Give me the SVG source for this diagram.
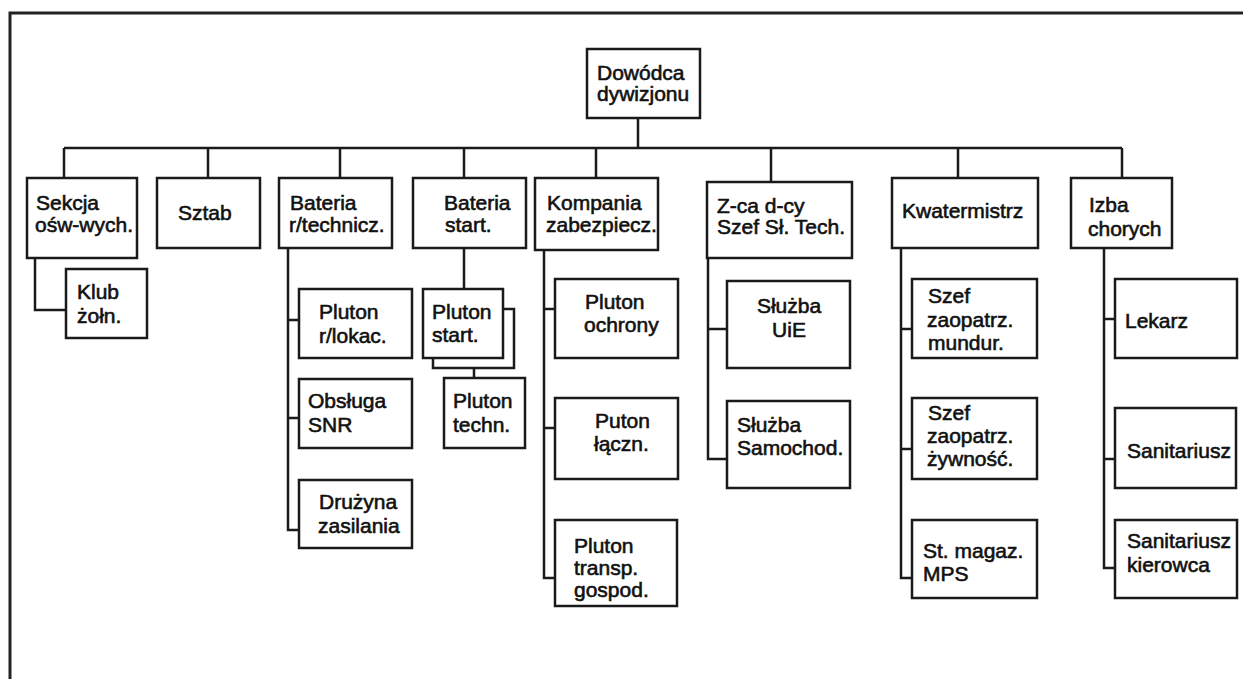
<svg xmlns="http://www.w3.org/2000/svg" width="1243" height="679" viewBox="0 0 1243 679">
<style>
.box{fill:#fff;stroke:#1a1a1a;stroke-width:2.5}
.lbl{font-family:"Liberation Sans",Arial,sans-serif;font-size:21px;fill:#111;stroke:#111;stroke-width:0.6}
.c{text-anchor:middle}
.conn{fill:none;stroke:#1a1a1a;stroke-width:2.5}
.frame{fill:none;stroke:#222;stroke-width:3}
</style>
<rect width="1243" height="679" fill="#fff"/>
<path class="frame" d="M10,679 V13 H1243"/>
<g id="connectors">
<path class="conn" d="M638,118 V148 M64,148 H1122 M64,148 V178 M208,148 V178 M340,148 V178 M464,148 V178 M596,148 V178 M771,148 V182 M958,148 V178 M1122,148 V178"/>
<path class="conn" d="M35,258 V310 H66"/>
<path class="conn" d="M288,248 V530 H299 M288,320 H299 M288,418 H299"/>
<path class="conn" d="M464,248 V289 M503,309 H514 V368 H433 V358 M474,368 V378"/>
<path class="conn" d="M544,250 V578 H555 M544,309 H555 M544,428 H555"/>
<path class="conn" d="M708,258 V459 H727 M708,329 H727"/>
<path class="conn" d="M901,248 V578 H912 M901,329 H912 M901,449 H912"/>
<path class="conn" d="M1104,248 V568 H1115 M1104,319 H1115 M1104,459 H1115"/>
</g>
<g id="dowodca"><rect class="box" x="587" y="49" width="113" height="69"/><text class="lbl" x="597" y="80">Dowódca</text><text class="lbl" x="597" y="101">dywizjonu</text></g>
<g id="sekcja"><rect class="box" x="27" y="178" width="110" height="80"/><text class="lbl" x="36" y="210">Sekcja</text><text class="lbl" x="35" y="232">ośw-wych.</text></g>
<g id="sztab"><rect class="box" x="157" y="178" width="103" height="70"/><text class="lbl" x="178" y="220">Sztab</text></g>
<g id="bateria-rt"><rect class="box" x="279" y="178" width="113" height="70"/><text class="lbl" x="290" y="210">Bateria</text><text class="lbl" x="289" y="232">r/technicz.</text></g>
<g id="bateria-start"><rect class="box" x="413" y="178" width="113" height="70"/><text class="lbl" x="444" y="210">Bateria</text><text class="lbl" x="445" y="232">start.</text></g>
<g id="kompania"><rect class="box" x="535" y="178" width="123" height="72"/><text class="lbl" x="547" y="210">Kompania</text><text class="lbl" x="546" y="232">zabezpiecz.</text></g>
<g id="zca"><rect class="box" x="707" y="182" width="145" height="76"/><text class="lbl" x="717" y="213">Z-ca d-cy</text><text class="lbl" x="717" y="234">Szef Sł. Tech.</text></g>
<g id="kwatermistrz"><rect class="box" x="892" y="178" width="146" height="70"/><text class="lbl" x="902" y="218">Kwatermistrz</text></g>
<g id="izba"><rect class="box" x="1071" y="178" width="101" height="70"/><text class="lbl" x="1089" y="212">Izba</text><text class="lbl" x="1088" y="236">chorych</text></g>
<g id="klub"><rect class="box" x="66" y="269" width="81" height="69"/><text class="lbl" x="77" y="299">Klub</text><text class="lbl" x="77" y="323">żołn.</text></g>
<g id="pluton-rlokac"><rect class="box" x="299" y="289" width="113" height="69"/><text class="lbl" x="319" y="319">Pluton</text><text class="lbl" x="319" y="343">r/lokac.</text></g>
<g id="obsluga-snr"><rect class="box" x="299" y="379" width="113" height="69"/><text class="lbl" x="308" y="408">Obsługa</text><text class="lbl" x="308" y="432">SNR</text></g>
<g id="druzyna"><rect class="box" x="299" y="480" width="113" height="68"/><text class="lbl" x="319" y="509">Drużyna</text><text class="lbl" x="318" y="533">zasilania</text></g>
<g id="pluton-start"><rect class="box" x="423" y="289" width="80" height="69"/><text class="lbl" x="432" y="319">Pluton</text><text class="lbl" x="432" y="342">start.</text></g>
<g id="pluton-techn"><rect class="box" x="444" y="378" width="81" height="70"/><text class="lbl" x="453" y="408">Pluton</text><text class="lbl" x="453" y="432">techn.</text></g>
<g id="pluton-ochrony"><rect class="box" x="555" y="279" width="123" height="79"/><text class="lbl" x="585" y="309">Pluton</text><text class="lbl" x="584" y="332">ochrony</text></g>
<g id="puton-lacz"><rect class="box" x="555" y="398" width="123" height="81"/><text class="lbl" x="595" y="428">Puton</text><text class="lbl" x="594" y="451">łączn.</text></g>
<g id="pluton-transp"><rect class="box" x="555" y="520" width="122" height="86"/><text class="lbl" x="574" y="553">Pluton</text><text class="lbl" x="574" y="575">transp.</text><text class="lbl" x="574" y="597">gospod.</text></g>
<g id="sluzba-uie"><rect class="box" x="727" y="281" width="123" height="87"/><text class="lbl c" x="789" y="313">Służba</text><text class="lbl c" x="789" y="337">UiE</text></g>
<g id="sluzba-sam"><rect class="box" x="727" y="401" width="123" height="87"/><text class="lbl" x="737" y="432">Służba</text><text class="lbl" x="737" y="455">Samochod.</text></g>
<g id="szef-mundur"><rect class="box" x="912" y="279" width="125" height="79"/><text class="lbl" x="928" y="303">Szef</text><text class="lbl" x="927" y="327">zaopatrz.</text><text class="lbl" x="928" y="350">mundur.</text></g>
<g id="szef-zywnosc"><rect class="box" x="912" y="398" width="125" height="81"/><text class="lbl" x="928" y="420">Szef</text><text class="lbl" x="927" y="443">zaopatrz.</text><text class="lbl" x="927" y="466">żywność.</text></g>
<g id="st-magaz"><rect class="box" x="912" y="520" width="125" height="78"/><text class="lbl" x="923" y="558">St. magaz.</text><text class="lbl" x="923" y="581">MPS</text></g>
<g id="lekarz"><rect class="box" x="1115" y="279" width="122" height="79"/><text class="lbl" x="1125" y="328">Lekarz</text></g>
<g id="sanitariusz"><rect class="box" x="1115" y="408" width="121" height="80"/><text class="lbl" x="1127" y="458">Sanitariusz</text></g>
<g id="sanitariusz-kierowca"><rect class="box" x="1115" y="520" width="122" height="78"/><text class="lbl" x="1127" y="548">Sanitariusz</text><text class="lbl" x="1127" y="572">kierowca</text></g>
</svg>
